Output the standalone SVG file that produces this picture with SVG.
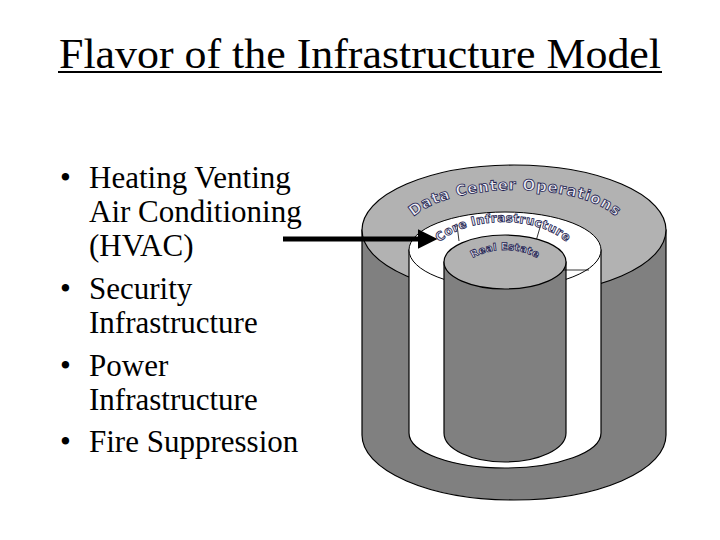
<svg xmlns="http://www.w3.org/2000/svg" width="720" height="540" viewBox="0 0 720 540">
<style>
.t{font-family:"Liberation Serif","Times New Roman",serif;font-size:31px;fill:#000}
.side{fill:#808080;stroke:#000;stroke-width:1.2}
.top{fill:#b2b2b2;stroke:#000;stroke-width:1.2}
.lbl{font-family:"DejaVu Sans",sans-serif;font-weight:bold;fill:#ececf4;stroke:#1c1c50;stroke-width:0.8}
</style>
<defs>
<marker id="ah" markerWidth="4" markerHeight="4" refX="1.5" refY="2" orient="auto" markerUnits="strokeWidth"><path d="M0,0 L4,2 L0,4 Z" fill="#000"/></marker>
<path id="p1" d="M405,234 A110,44 0 0 1 625,234"/>
<path id="p2" d="M428,265 A75,43 0 0 1 578,265"/>
<path id="p3" d="M460,277 A45,27 0 0 1 550,277"/>
</defs>
<rect width="720" height="540" fill="#fff"/>
<g id="title">
<text x="360" y="68" text-anchor="middle" font-family="'Liberation Serif','Times New Roman',serif" font-size="42" textLength="602" lengthAdjust="spacingAndGlyphs">Flavor of the Infrastructure Model</text>
<rect x="58" y="71" width="604" height="2" fill="#000"/>
</g>
<g id="bullets" class="t">
<text x="60" y="188">•</text><text x="89" y="188">Heating Venting</text>
<text x="89" y="222">Air Conditioning</text>
<text x="89" y="256">(HVAC)</text>
<text x="60" y="299">•</text><text x="89" y="299">Security</text>
<text x="89" y="333">Infrastructure</text>
<text x="60" y="376">•</text><text x="89" y="376">Power</text>
<text x="89" y="410">Infrastructure</text>
<text x="60" y="452">•</text><text x="89" y="452">Fire Suppression</text>
</g>
<g id="outer">
<path class="side" d="M362,230 L362,435 A152,65 0 0 0 666,435 L666,230 Z"/>
<ellipse class="top" cx="514" cy="230" rx="152" ry="65"/>
</g>
<g id="middle">
<path d="M409,250 L409,433 A96,35 0 0 0 601,433 L601,250 Z" fill="#fff" stroke="#000" stroke-width="1.2"/>
<ellipse cx="505" cy="250" rx="96" ry="38" fill="#fff" stroke="#000" stroke-width="1"/>
<line x1="457" y1="225" x2="459" y2="241" stroke="#000" stroke-width="0.8"/>
<line x1="541" y1="224" x2="536" y2="241" stroke="#000" stroke-width="0.8"/>
</g>
<g id="inner">
<path class="side" d="M444,262 L444,433 A61,29 0 0 0 566,433 L566,262 Z"/>
<ellipse class="top" cx="505" cy="262" rx="61" ry="27"/>
<line x1="563" y1="270" x2="589" y2="270" stroke="#000" stroke-width="0.8"/>
</g>
<g id="labels">
<text class="lbl" font-size="15" letter-spacing="0.6"><textPath href="#p1" startOffset="50%" text-anchor="middle">Data Center Operations</textPath></text>
<text class="lbl" font-size="12" letter-spacing="0.3"><textPath href="#p2" startOffset="50%" text-anchor="middle">Core Infrastructure</textPath></text>
<text class="lbl" font-size="10" letter-spacing="0.3"><textPath href="#p3" startOffset="50%" text-anchor="middle">Real Estate</textPath></text>
</g>
<g id="connectors">
<line x1="283" y1="239" x2="425" y2="239" stroke="#000" stroke-width="5" marker-end="url(#ah)"/>
</g>
</svg>
